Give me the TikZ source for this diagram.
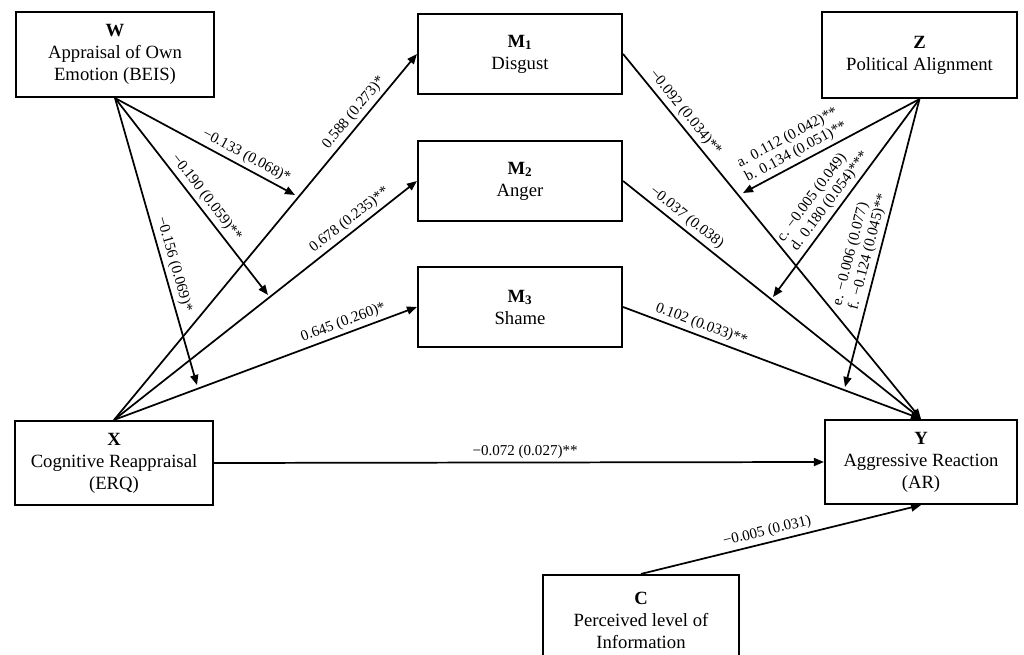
\documentclass[tikz,border=0pt]{standalone}
\usepackage{fontspec}
\setmainfont{Liberation Serif}
\usetikzlibrary{arrows.meta}
\begin{document}
\begin{tikzpicture}[x=0.75pt,y=-0.75pt,
  box/.style={draw, line width=1.6pt, align=center, inner sep=0pt, font=\fontsize{14}{16.5}\selectfont},
  arr/.style={line width=1.3pt, -{Triangle[length=7.5pt,width=6pt]}},
  lab/.style={font=\fontsize{11.3}{12.5}\selectfont, sloped, above, inner sep=2.5pt},
  lab2/.style={lab, align=left}]
\useasboundingbox (0,0) rectangle (1024,655);
% boxes
\node[box, minimum width=148.5pt, minimum height=63.75pt] (W) at (115,54.5) {\textbf{W}\\Appraisal of Own\\Emotion (BEIS)};
\node[box, minimum width=153pt, minimum height=60pt] (M1) at (520,54) {\textbf{M\textsubscript{1}}\\Disgust};
\node[box, minimum width=153pt, minimum height=60pt] (M2) at (520,181) {\textbf{M\textsubscript{2}}\\Anger};
\node[box, minimum width=153pt, minimum height=60pt] (M3) at (520,307) {\textbf{M\textsubscript{3}}\\Shame};
\node[box, minimum width=146.25pt, minimum height=64.5pt] (Z) at (919.5,55) {\textbf{Z}\\Political Alignment};
\node[box, minimum width=148.5pt, minimum height=63pt] (X) at (114,463) {\textbf{X}\\Cognitive Reappraisal\\(ERQ)};
\node[box, minimum width=144pt, minimum height=63pt] (Y) at (921,462) {\textbf{Y}\\Aggressive Reaction\\(AR)};
\node[box, minimum width=147pt, minimum height=67.5pt] (C) at (641,620) {\textbf{C}\\Perceived level of\\Information};
% moderation targets
\coordinate (w1) at (295,195);
\coordinate (w2) at (268,295);
\coordinate (w3) at (197,385);
\coordinate (z1) at (743,193);
\coordinate (z2) at (773,297);
\coordinate (z3) at (845,387);
% X -> M
\draw[arr] (X.north) -- node[lab, pos=0.82]{0.588 (0.273)*} (M1.west);
\draw[arr] (X.north) -- node[lab, pos=0.80]{0.678 (0.235)**} (M2.west);
\draw[arr] (X.north) -- node[lab, pos=0.77]{0.645 (0.260)*} (M3.west);
% M -> Y
\draw[arr] (M1.east) -- node[lab, pos=0.18]{−0.092 (0.034)**} (Y.north);
\draw[arr] (M2.east) -- node[lab, pos=0.19]{−0.037 (0.038)} (Y.north);
\draw[arr] (M3.east) -- node[lab, pos=0.25]{0.102 (0.033)**} (Y.north);
% X -> Y
\draw[arr] (X.east) -- node[lab, pos=0.51]{−0.072 (0.027)**} (Y.west);
% C -> Y
\draw[arr] (C.north) -- node[lab, pos=0.46]{−0.005 (0.031)} (Y.south);
% W moderation
\draw[arr] (W.south) -- node[lab, pos=0.70]{−0.133 (0.068)*} (w1);
\draw[arr] (W.south) -- node[lab, pos=0.54]{−0.190 (0.059)**} (w2);
\draw[arr] (W.south) -- node[lab, pos=0.59]{−0.156 (0.069)*} (w3);
% Z moderation
\draw[arr] (Z.south) -- node[lab2, pos=0.67]{a. 0.112 (0.042)**\\b. 0.134 (0.051)**} (z1);
\draw[arr] (Z.south) -- node[lab2, pos=0.55]{c. −0.005 (0.049)\\d. 0.180 (0.054)***} (z2);
\draw[arr] (Z.south) -- node[lab2, pos=0.54]{e. −0.006 (0.077)\\f. −0.124 (0.045)**} (z3);
\end{tikzpicture}
\end{document}
